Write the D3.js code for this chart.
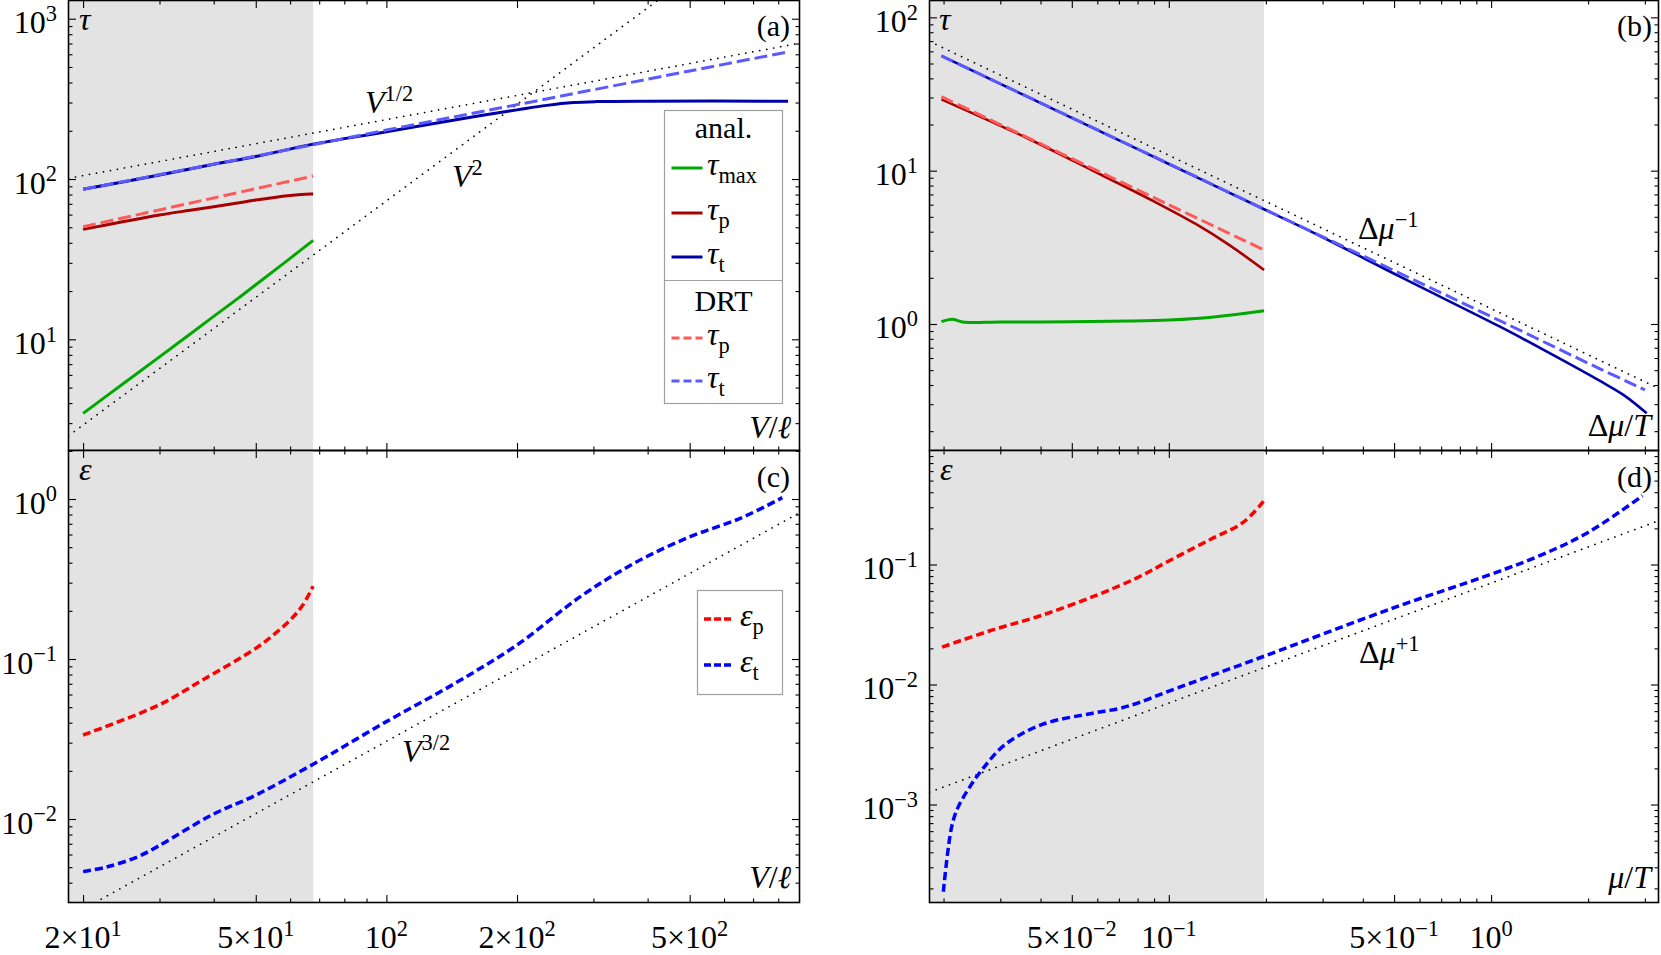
<!DOCTYPE html>
<html>
<head>
<meta charset="utf-8">
<script src="https://cdn.jsdelivr.net/npm/d3@7"></script>
<style>
  body { margin: 0; background: #fff; }
  svg { display: block; background: #fff; }
  text { font-family: "Liberation Serif", "DejaVu Serif", serif; fill: #000; }
</style>
</head>
<body>
<svg id="chart" width="1661" height="955"></svg>
<script>
// ---------- data ----------
// (a) relaxation times vs V/l
const vTauMax = [20, 25, 30, 35, 40, 45.5, 50, 60, 67.8]
const tauMaxA = [3.45, 5.4, 7.77, 10.6, 13.9, 18.0, 21.9, 32.0, 41.4]
const vTauP = [20, 25, 30, 35, 40, 45, 50, 60, 65, 67.8]
const tauPA = [48.5, 54.5, 59.6, 63.6, 67.1, 70.5, 74.0, 79.0, 80.4, 80.5]
const vTauPDrt = [20, 40, 67.8]
const tauPDrtA = [50.4, 76.2, 104.4]
const vTauT = [20, 30, 40, 50, 67.8, 100, 164, 200, 234, 270, 305, 400, 843]
const tauTA = [86.3, 106, 123.5, 138, 165, 197, 248, 270, 288, 300, 304, 306, 306]
const vTauTDrt = [20, 50, 100, 200, 500, 845]
const tauTDrtA = [86.3, 139, 202, 291, 472, 622]
const vGuideHalf = [18.51, 895.5], tauGuideHalf = [101, 703]      // V^{1/2}
const vGuideSq = [18.51, 421.8], tauGuideSq = [2.5, 1299]         // V^2

// (b) relaxation times vs dmu/T
const muTauMax = [0.0197, 0.0213, 0.0229, 0.03, 0.05, 0.075, 0.1, 0.121, 0.154, 0.1975]
const tauMaxB = [1.035, 1.075, 1.03, 1.03, 1.035, 1.045, 1.06, 1.085, 1.14, 1.22]
const muTauP = [0.0197, 0.0368, 0.0593, 0.09, 0.1212, 0.1538, 0.1975]
const tauPB = [29.2, 16.1, 9.8, 6.3, 4.49, 3.28, 2.25]
const muTauPDrt = [0.0197, 0.1, 0.1975]
const tauPDrtB = [30.4, 6.0, 3.04]
const muTauT = [0.0197, 0.05, 0.1, 0.1975, 0.3, 0.5215, 1.0656, 1.5, 2.177, 2.6, 3.04]
const tauTB = [56.1, 22.1, 11.05, 5.6, 3.68, 2.035, 0.96, 0.655, 0.425, 0.34, 0.2616]
const muTauTDrt = [0.0197, 0.1, 0.1975, 0.5215, 1.0656, 2.177, 3.0]
const tauTDrtB = [56.1, 11.1, 5.62, 2.14, 1.05, 0.51, 0.372]
const muGuideB = [0.01809, 3.307], tauGuideB = [69.7, 0.381]       // dmu^{-1}

// (c) errors vs V/l
const vEpsP = [20, 29.9, 37.4, 50, 55, 60, 64, 67.8]
const epsPC = [0.0335, 0.0516, 0.073, 0.1166, 0.142, 0.175, 0.215, 0.285]
const vEpsT = [20, 22.6, 26.7, 29.9, 39.6, 50, 67.8, 100, 144, 200, 282.7, 374.5, 500, 656, 817.5]
const epsTC = [0.00469, 0.0050, 0.0058, 0.0068, 0.0106, 0.0141, 0.022, 0.0406, 0.0705, 0.1224, 0.25, 0.40, 0.58, 0.76, 1.02]
const vGuideC = [21.3, 895.5], epsGuideC = [0.003, 0.82]          // V^{3/2}

// (d) errors vs mu/T
const muEpsP = [0.0198, 0.0277, 0.0403, 0.0589, 0.08, 0.1, 0.135, 0.17, 0.1975]
const epsPD = [0.0205, 0.0279, 0.0377, 0.0547, 0.0778, 0.107, 0.1625, 0.224, 0.34]
const muEpsT = [0.01997, 0.0212, 0.02223, 0.02416, 0.02657, 0.031, 0.0403, 0.0589, 0.07, 0.08, 0.1, 0.1975, 0.5, 1.0, 1.41, 2.0, 2.95]
const epsTD = [1.875e-4, 6.55e-4, 9.6e-4, 1.41e-3, 2.01e-3, 3.15e-3, 4.63e-3, 5.8e-3, 6.3e-3, 7.0e-3, 8.8e-3, 0.0172, 0.0437, 0.083, 0.118, 0.185, 0.374]
const muGuideD = [0.01809, 3.307], epsGuideD = [1.266e-3, 0.2315]  // dmu^{+1}

// shaded region ends here
const shadeEndV = 67.8
const shadeEndMu = 0.1975

// tick labels
const xTicksV = [20, 50, 100, 200, 500]
const xLabelsV = [['2×10', '1'], ['5×10', '1'], ['10', '2'], ['2×10', '2'], ['5×10', '2']]
const xTicksMu = [0.05, 0.1, 0.5, 1]
const xLabelsMu = [['5×10', '−2'], ['10', '−1'], ['5×10', '−1'], ['10', '0']]
const yTicksA = [10, 100, 1000], yLabelsA = ['1', '2', '3']
const yTicksB = [1, 10, 100], yLabelsB = ['0', '1', '2']
const yTicksC = [0.01, 0.1, 1], yLabelsC = ['−2', '−1', '0']
const yTicksD = [0.001, 0.01, 0.1], yLabelsD = ['−3', '−2', '−1']

// ---------- layout ----------
const svg = d3.select('#chart')
const colL = [68.5, 799.5], colR = [929.5, 1658.5]
const rowT = [0.5, 450.5], rowB = [450.5, 902.5]

const xV = d3.scaleLog().domain([18.51, 895.5]).range(colL)
const xMu = d3.scaleLog().domain([0.01809, 3.307]).range(colR)
const yA = d3.scaleLog().domain([2.025, 1299]).range([rowT[1], rowT[0]])
const yB = d3.scaleLog().domain([0.1496, 128.8]).range([rowT[1], rowT[0]])
const yC = d3.scaleLog().domain([3.007e-3, 2.01]).range([rowB[1], rowB[0]])
const yD = d3.scaleLog().domain([1.526e-4, 0.891]).range([rowB[1], rowB[0]])

const green = '#00a800', darkRed = '#a80000', darkBlue = '#0000a8'
const lightRed = '#ff5a5a', lightBlue = '#5a5aff'

function mtext(g, x, y, parts, anchor, size) {
    size = size || 32
    const t = g.append('text')
        .attr('x', x).attr('y', y)
        .attr('text-anchor', anchor || 'start')
        .style('font-size', size + 'px')
    let shift = 0
    parts.forEach(p => {
        const s = t.append('tspan').text(p.t)
        const want = p.sup ? -0.38 * size : (p.sub ? 0.25 * size : 0)
        if (want !== shift) { s.attr('dy', want - shift); shift = want }
        if (p.sup || p.sub) s.style('font-size', (0.7 * size) + 'px')
        if (p.it) s.style('font-style', 'italic')
    })
    return t
}

function logTicks(domain) {
    const out = []
    const lo = Math.floor(Math.log10(domain[0])), hi = Math.ceil(Math.log10(domain[1]))
    for (let e = lo; e <= hi; e++) {
        for (let k = 1; k < 10; k++) {
            const v = +(k * Math.pow(10, e)).toPrecision(6)
            if (v >= domain[0] && v <= domain[1]) out.push(v)
        }
    }
    return out
}

function drawPanel(id, x, y, xMajor, yMajor, shadeEnd) {
    const xr = x.range(), yr = y.range()
    const g = svg.append('g').attr('class', 'panel-' + id)

    svg.append('clipPath').attr('id', 'clip-' + id)
        .append('rect')
        .attr('x', xr[0]).attr('y', yr[1])
        .attr('width', xr[1] - xr[0]).attr('height', yr[0] - yr[1])

    // shaded region
    g.append('rect')
        .attr('x', xr[0]).attr('y', yr[1])
        .attr('width', x(shadeEnd) - xr[0]).attr('height', yr[0] - yr[1])
        .style('fill', '#e3e3e3')

    const plot = g.append('g').attr('clip-path', 'url(#clip-' + id + ')')

    // ticks, all pointing inward, mirrored on all four sides
    const xMinor = logTicks(x.domain()).filter(v => !xMajor.some(m => Math.abs(m - v) / m < 1e-6))
    const yMinor = logTicks(y.domain()).filter(v => !yMajor.some(m => Math.abs(m - v) / m < 1e-6))
    const axes = [
        [d3.axisBottom(x), `translate(0,${yr[0]})`, xMajor, xMinor],
        [d3.axisTop(x), `translate(0,${yr[1]})`, xMajor, xMinor],
        [d3.axisLeft(y), `translate(${xr[0]},0)`, yMajor, yMinor],
        [d3.axisRight(y), `translate(${xr[1]},0)`, yMajor, yMinor],
    ]
    axes.forEach(([ax, tr, major, minor]) => {
        [[minor, -4], [major, -7.5]].forEach(([vals, len]) => {
            g.append('g')
                .attr('transform', tr)
                .call(ax.tickValues(vals).tickSize(len).tickFormat(''))
                .call(s => s.select('.domain').remove())
                .call(s => s.selectAll('line').style('stroke', '#000').style('stroke-width', 1.1))
        })
    })

    // frame
    g.append('rect')
        .attr('x', xr[0]).attr('y', yr[1])
        .attr('width', xr[1] - xr[0]).attr('height', yr[0] - yr[1])
        .style('fill', 'none').style('stroke', '#000').style('stroke-width', 1.6)

    return { g, plot }
}

function curve(plot, x, y, xs, ys, color, width, dash) {
    const pts = xs.map((v, i) => [v, ys[i]])
    const line = d3.line()
        .x(d => x(d[0]))
        .y(d => y(d[1]))
        .curve(d3.curveCatmullRom.alpha(0.5))
    const p = plot.append('path')
        .datum(pts)
        .attr('d', line)
        .style('fill', 'none')
        .style('stroke', color)
        .style('stroke-width', width)
    if (dash) p.style('stroke-dasharray', dash)
    return p
}

function guide(plot, x, y, xs, ys) {
    curve(plot, x, y, xs, ys, '#000', 1.7, '0.1,7').style('stroke-linecap', 'round')
}

// panels
const pa = drawPanel('a', xV, yA, xTicksV, yTicksA, shadeEndV)
const pb = drawPanel('b', xMu, yB, xTicksMu, yTicksB, shadeEndMu)
const pc = drawPanel('c', xV, yC, xTicksV, yTicksC, shadeEndV)
const pd = drawPanel('d', xMu, yD, xTicksMu, yTicksD, shadeEndMu)

// (a)
guide(pa.plot, xV, yA, vGuideHalf, tauGuideHalf)
guide(pa.plot, xV, yA, vGuideSq, tauGuideSq)
curve(pa.plot, xV, yA, vTauMax, tauMaxA, green, 3)
curve(pa.plot, xV, yA, vTauP, tauPA, darkRed, 3)
curve(pa.plot, xV, yA, vTauT, tauTA, darkBlue, 3)
curve(pa.plot, xV, yA, vTauPDrt, tauPDrtA, lightRed, 3, '13,5')
curve(pa.plot, xV, yA, vTauTDrt, tauTDrtA, lightBlue, 3, '13,5')

// (b)
guide(pb.plot, xMu, yB, muGuideB, tauGuideB)
curve(pb.plot, xMu, yB, muTauMax, tauMaxB, green, 3)
curve(pb.plot, xMu, yB, muTauP, tauPB, darkRed, 2.6)
curve(pb.plot, xMu, yB, muTauT, tauTB, darkBlue, 2.6)
curve(pb.plot, xMu, yB, muTauPDrt, tauPDrtB, lightRed, 3, '13,5')
curve(pb.plot, xMu, yB, muTauTDrt, tauTDrtB, lightBlue, 3, '13,5')

// (c)
guide(pc.plot, xV, yC, vGuideC, epsGuideC)
curve(pc.plot, xV, yC, vEpsP, epsPC, '#ff0000', 3.5, '8,4')
curve(pc.plot, xV, yC, vEpsT, epsTC, '#0000ff', 3.5, '8,4')

// (d)
guide(pd.plot, xMu, yD, muGuideD, epsGuideD)
curve(pd.plot, xMu, yD, muEpsP, epsPD, '#ff0000', 3.5, '8,4')
curve(pd.plot, xMu, yD, muEpsT, epsTD, '#0000ff', 3.5, '8,4')

// ---------- tick labels ----------
const lab = svg.append('g')
xTicksV.forEach((v, i) => mtext(lab, xV(v), 948, [{ t: xLabelsV[i][0] }, { t: xLabelsV[i][1], sup: true }], 'middle'))
xTicksMu.forEach((v, i) => mtext(lab, xMu(v), 948, [{ t: xLabelsMu[i][0] }, { t: xLabelsMu[i][1], sup: true }], 'middle'))
const yLab = (scale, ticks, labels, xEnd) => ticks.forEach((v, i) =>
    mtext(lab, xEnd, scale(v) + 14.5, [{ t: '10' }, { t: labels[i], sup: true }], 'end'))
yLab(yA, yTicksA, yLabelsA, 57)
yLab(yC, yTicksC, yLabelsC, 57)
yLab(yB, yTicksB, yLabelsB, 918)
yLab(yD, yTicksD, yLabelsD, 918)

// ---------- annotations ----------
const ann = svg.append('g')
mtext(ann, 79, 30, [{ t: 'τ', it: true }])
mtext(ann, 790, 36, [{ t: '(a)' }], 'end', 30)
mtext(ann, 791, 438, [{ t: 'V', it: true }, { t: '/' }, { t: 'ℓ', it: true }], 'end')
mtext(ann, 365, 113, [{ t: 'V', it: true }, { t: '1/2', sup: true }])
mtext(ann, 452, 187, [{ t: 'V', it: true }, { t: '2', sup: true }])

mtext(ann, 939, 30, [{ t: 'τ', it: true }])
mtext(ann, 1652, 36, [{ t: '(b)' }], 'end', 30)
mtext(ann, 1358, 239, [{ t: 'Δ' }, { t: 'μ', it: true }, { t: '−1', sup: true }])
mtext(ann, 1651, 436, [{ t: 'Δ' }, { t: 'μ', it: true }, { t: '/' }, { t: 'T', it: true }], 'end')

mtext(ann, 79, 480, [{ t: 'ε', it: true }])
mtext(ann, 790, 487, [{ t: '(c)' }], 'end', 30)
mtext(ann, 402, 762, [{ t: 'V', it: true }, { t: '3/2', sup: true }])
mtext(ann, 791, 888, [{ t: 'V', it: true }, { t: '/' }, { t: 'ℓ', it: true }], 'end')

mtext(ann, 940, 480, [{ t: 'ε', it: true }])
mtext(ann, 1652, 487, [{ t: '(d)' }], 'end', 30)
mtext(ann, 1359, 663, [{ t: 'Δ' }, { t: 'μ', it: true }, { t: '+1', sup: true }])
mtext(ann, 1651, 888, [{ t: 'μ', it: true }, { t: '/' }, { t: 'T', it: true }], 'end')

// ---------- legends ----------
const legA = svg.append('g')
legA.append('rect').attr('x', 664.5).attr('y', 110.5).attr('width', 118).attr('height', 293)
    .style('fill', '#fff').style('stroke', '#a0a0a0').style('stroke-width', 1.2)
legA.append('line').attr('x1', 664.5).attr('x2', 782.5).attr('y1', 280.5).attr('y2', 280.5)
    .style('stroke', '#a0a0a0').style('stroke-width', 1.2)
mtext(legA, 723.5, 138, [{ t: 'anal.' }], 'middle', 30)
mtext(legA, 723.5, 311, [{ t: 'DRT' }], 'middle', 30)
const legEntries = [
    [168, green, null, 'max'],
    [213, darkRed, null, 'p'],
    [257, darkBlue, null, 't'],
    [338, lightRed, '8,4', 'p'],
    [381, lightBlue, '8,4', 't'],
]
legEntries.forEach(([yy, col, dash, sub]) => {
    const l = legA.append('line').attr('x1', 671.5).attr('x2', 702.5).attr('y1', yy).attr('y2', yy)
        .style('stroke', col).style('stroke-width', 3)
    if (dash) l.style('stroke-dasharray', dash)
    mtext(legA, 707, yy + 7, [{ t: 'τ', it: true }, { t: sub, sub: true }], 'start', 32)
})

const legC = svg.append('g')
legC.append('rect').attr('x', 697.5).attr('y', 590.5).attr('width', 85).attr('height', 104)
    .style('fill', '#fff').style('stroke', '#a0a0a0').style('stroke-width', 1.2)
;[[619, '#ff0000', 'p'], [665, '#0000ff', 't']].forEach(([yy, col, sub]) => {
    legC.append('line').attr('x1', 704).attr('x2', 734).attr('y1', yy).attr('y2', yy)
        .style('stroke', col).style('stroke-width', 3.5).style('stroke-dasharray', '7,3')
    mtext(legC, 740, yy + 7, [{ t: 'ε', it: true }, { t: sub, sub: true }], 'start', 32)
})
</script>
</body>
</html>
